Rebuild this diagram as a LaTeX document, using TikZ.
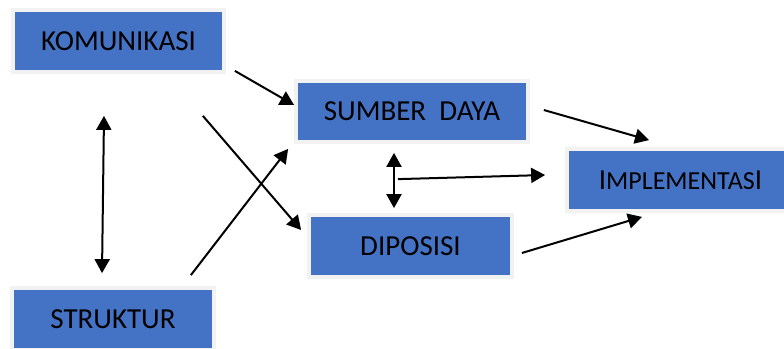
\documentclass[tikz,border=0pt]{standalone}
\usepackage{fontspec}
\setmainfont{Carlito}
\usepackage{xcolor}
\usetikzlibrary{arrows.meta,calc,positioning}
\definecolor{boxblue}{HTML}{4472C4}
\definecolor{rimgray}{HTML}{F2F2F2}

\begin{document}
\begin{tikzpicture}[
  x=0.5pt, y=-0.5pt,
  font=\fontsize{14.5}{17}\selectfont,
  box/.style={fill=boxblue, draw=rimgray, line width=3.75*0.5pt, inner sep=0pt, minimum height=30.75pt, align=center},
  arrow/.style={-{Triangle[length=7pt,width=7.5pt]}, line width=1pt},
  dblarrow/.style={{Triangle[length=7pt,width=7.5pt]}-{Triangle[length=7pt,width=7.5pt]}, line width=1pt}
]
\useasboundingbox (0,0) rectangle (784,349);
\node[box, minimum width=105.25pt] (kom) at (118.5,41) {KOMUNIKASI};
\node[box, minimum width=115.75pt, minimum height=30.25pt] (sd) at (412,111.5) {SUMBER\ \ DAYA};
\node[box, minimum width=113.25pt] (imp) at (680.5,180) {I{\fontsize{13}{17}\selectfont MPLEMENTAS}I};
\node[box, minimum width=101.25pt] (dip) at (410.5,246) {DIPOSISI};
\node[box, minimum width=100.75pt] (str) at (113,319) {STRUKTUR};
\draw[arrow] ([shift={(9.25,-2.75)}]kom.south east) -- ([shift={(-0.25,-6.5)}]sd.west);
\draw[arrow] ([shift={(-22.75,42.25)}]kom.south east) -- ([shift={(-6.25,-16)}]dip.west);
\draw[arrow] ([shift={(-24.75,-11.25)}]str.north east) -- ([shift={(-6.25,5.25)}]sd.south west);
\draw[dblarrow] ([shift={(-14.5,42.25)}]kom.south) -- ([shift={(-11,-13.25)}]str.north);
\draw[arrow] ([shift={(14.25,-1.5)}]sd.east) -- ([shift={(-31.5,-7.25)}]imp.north);
\draw[arrow] ([shift={(8.25,7)}]dip.east) -- ([shift={(-38.5,4.25)}]imp.south);
\draw[dblarrow] ([shift={(-18,9.25)}]sd.south) -- coordinate[pos=0.475] (j) ([shift={(-16.5,-5.25)}]dip.north);
\draw[arrow] ([xshift=4*0.5pt]j) -- ([shift={(-20.25,-5)}]imp.west);
\end{tikzpicture}
\end{document}
